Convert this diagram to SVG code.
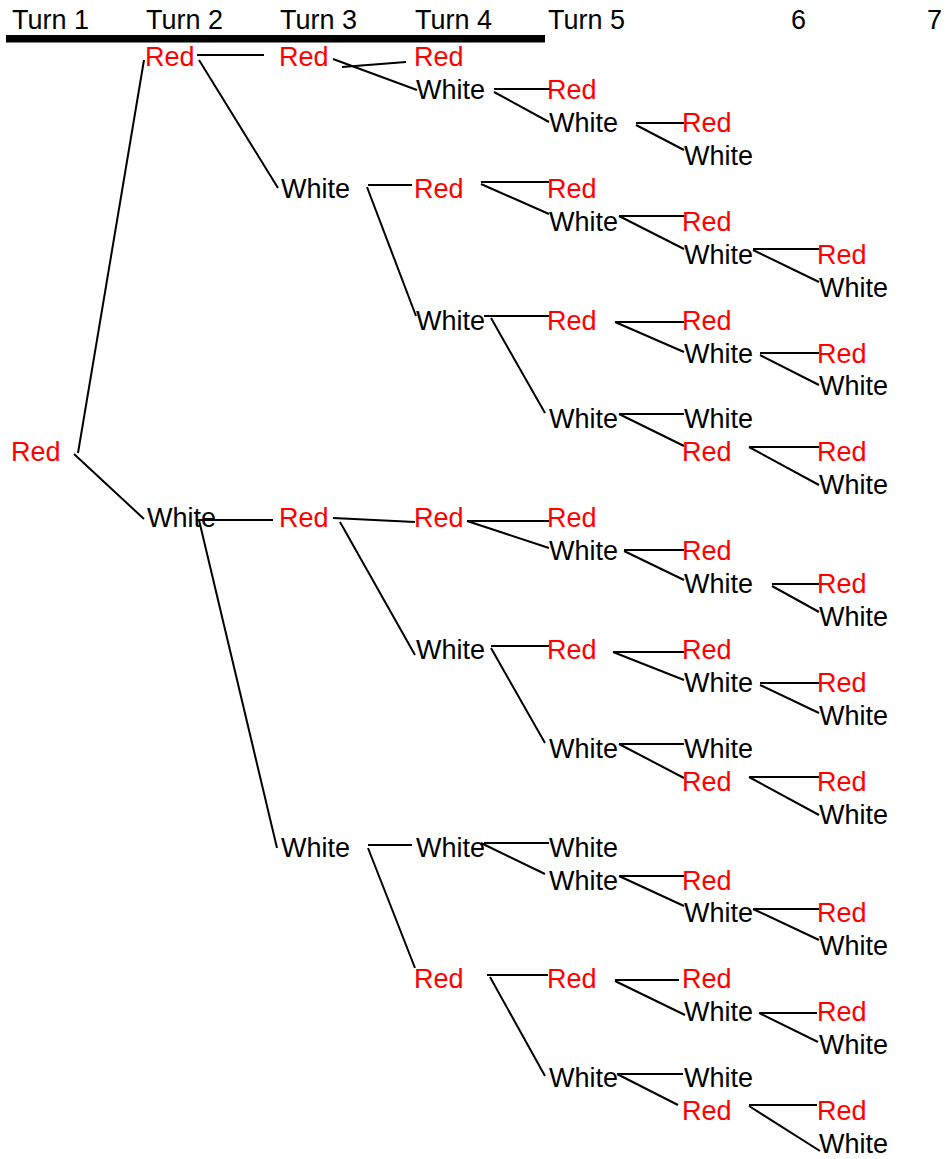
<svg xmlns="http://www.w3.org/2000/svg" width="948" height="1159" viewBox="0 0 948 1159">
  <style>
    text { font-family: "Liberation Sans", Arial, sans-serif; font-size: 27px; }
    .r { fill: #ff0000; }
    .w { fill: #000000; }
    .hd { fill: #000000; }
    #connectors line { stroke: #000000; stroke-width: 2; stroke-linecap: butt; }
  </style>
  <rect x="0" y="0" width="948" height="1159" fill="#ffffff"/>

  <!-- column headings -->
  <g id="header">
    <text class="hd" x="12" y="29">Turn 1</text>
    <text class="hd" x="146" y="29">Turn 2</text>
    <text class="hd" x="280" y="29">Turn 3</text>
    <text class="hd" x="415" y="29">Turn 4</text>
    <text class="hd" x="548" y="29">Turn 5</text>
    <text class="hd" x="791" y="29">6</text>
    <text class="hd" x="927" y="29">7</text>
    <rect x="6" y="35" width="539" height="7.5" fill="#000000"/>
  </g>

  <!-- branches -->
  <g id="connectors">
    <line x1="78" y1="453" x2="144" y2="60"/>
    <line x1="74" y1="454" x2="144" y2="519"/>
    <line x1="197" y1="55" x2="264" y2="55"/>
    <line x1="199" y1="60" x2="278" y2="188"/>
    <line x1="342" y1="67" x2="406" y2="62"/>
    <line x1="333" y1="59" x2="417" y2="90"/>
    <line x1="494" y1="89" x2="551" y2="89"/>
    <line x1="494" y1="92" x2="549" y2="122"/>
    <line x1="636" y1="123" x2="684" y2="123"/>
    <line x1="636" y1="125" x2="684" y2="150"/>
    <line x1="368" y1="185" x2="412" y2="185"/>
    <line x1="367" y1="187" x2="416" y2="316"/>
    <line x1="481" y1="182" x2="549" y2="182"/>
    <line x1="481" y1="184" x2="549" y2="214"/>
    <line x1="619" y1="216" x2="684" y2="216"/>
    <line x1="619" y1="216" x2="684" y2="249"/>
    <line x1="753" y1="249" x2="819" y2="249"/>
    <line x1="753" y1="250" x2="819" y2="282"/>
    <line x1="484" y1="316" x2="549" y2="316"/>
    <line x1="491" y1="318" x2="545" y2="413"/>
    <line x1="615" y1="322" x2="684" y2="322"/>
    <line x1="615" y1="322" x2="684" y2="352"/>
    <line x1="760" y1="353" x2="819" y2="353"/>
    <line x1="760" y1="355" x2="819" y2="385"/>
    <line x1="619" y1="414" x2="684" y2="414"/>
    <line x1="619" y1="414" x2="684" y2="446"/>
    <line x1="749" y1="447" x2="819" y2="447"/>
    <line x1="749" y1="447" x2="819" y2="485"/>
    <line x1="197" y1="520" x2="273" y2="520"/>
    <line x1="199" y1="520" x2="277" y2="848"/>
    <line x1="333" y1="518" x2="415" y2="522"/>
    <line x1="340" y1="522" x2="415" y2="655"/>
    <line x1="467" y1="521" x2="549" y2="521"/>
    <line x1="467" y1="521" x2="549" y2="548"/>
    <line x1="624" y1="550" x2="684" y2="550"/>
    <line x1="624" y1="551" x2="684" y2="580"/>
    <line x1="772" y1="584" x2="819" y2="584"/>
    <line x1="772" y1="586" x2="819" y2="612"/>
    <line x1="491" y1="646" x2="549" y2="646"/>
    <line x1="491" y1="648" x2="545" y2="743"/>
    <line x1="613" y1="652" x2="684" y2="652"/>
    <line x1="613" y1="652" x2="684" y2="680"/>
    <line x1="760" y1="683" x2="819" y2="683"/>
    <line x1="760" y1="685" x2="819" y2="713"/>
    <line x1="619" y1="744" x2="684" y2="744"/>
    <line x1="619" y1="744" x2="684" y2="778"/>
    <line x1="749" y1="777" x2="819" y2="777"/>
    <line x1="749" y1="777" x2="819" y2="815"/>
    <line x1="368" y1="845" x2="412" y2="845"/>
    <line x1="368" y1="848" x2="415" y2="968"/>
    <line x1="484" y1="843" x2="549" y2="843"/>
    <line x1="481" y1="843" x2="545" y2="874"/>
    <line x1="619" y1="876" x2="684" y2="876"/>
    <line x1="619" y1="876" x2="684" y2="906"/>
    <line x1="753" y1="909" x2="819" y2="909"/>
    <line x1="753" y1="909" x2="819" y2="940"/>
    <line x1="487" y1="975" x2="548" y2="975"/>
    <line x1="490" y1="977" x2="545" y2="1076"/>
    <line x1="615" y1="980" x2="679" y2="980"/>
    <line x1="615" y1="981" x2="685" y2="1015"/>
    <line x1="759" y1="1013" x2="817" y2="1013"/>
    <line x1="759" y1="1013" x2="818" y2="1042"/>
    <line x1="617" y1="1074" x2="683" y2="1074"/>
    <line x1="617" y1="1074" x2="678" y2="1105"/>
    <line x1="749" y1="1105" x2="817" y2="1105"/>
    <line x1="749" y1="1106" x2="820" y2="1151"/>
  </g>

  <!-- outcome nodes: column 1 -->
  <g id="c1-r12"><text class="r" x="11" y="461">Red</text></g>
  <!-- column 2 -->
  <g id="c2-r0"><text class="r" x="145" y="66">Red</text></g>
  <g id="c2-r14"><text class="w" x="147" y="527">White</text></g>
  <!-- column 3 -->
  <g id="c3-r0"><text class="r" x="279" y="66">Red</text></g>
  <g id="c3-r4"><text class="w" x="281" y="198">White</text></g>
  <g id="c3-r14"><text class="r" x="279" y="527">Red</text></g>
  <g id="c3-r24"><text class="w" x="281" y="857">White</text></g>
  <!-- column 4 -->
  <g id="c4-r0"><text class="r" x="414" y="66">Red</text></g>
  <g id="c4-r1"><text class="w" x="416" y="99">White</text></g>
  <g id="c4-r4"><text class="r" x="414" y="198">Red</text></g>
  <g id="c4-r8"><text class="w" x="416" y="330">White</text></g>
  <g id="c4-r14"><text class="r" x="414" y="527">Red</text></g>
  <g id="c4-r18"><text class="w" x="416" y="659">White</text></g>
  <g id="c4-r24"><text class="w" x="416" y="857">White</text></g>
  <g id="c4-r28"><text class="r" x="414" y="988">Red</text></g>
  <!-- column 5 -->
  <g id="c5-r1"><text class="r" x="547" y="99">Red</text></g>
  <g id="c5-r2"><text class="w" x="549" y="132">White</text></g>
  <g id="c5-r4"><text class="r" x="547" y="198">Red</text></g>
  <g id="c5-r5"><text class="w" x="549" y="231">White</text></g>
  <g id="c5-r8"><text class="r" x="547" y="330">Red</text></g>
  <g id="c5-r11"><text class="w" x="549" y="428">White</text></g>
  <g id="c5-r14"><text class="r" x="547" y="527">Red</text></g>
  <g id="c5-r15"><text class="w" x="549" y="560">White</text></g>
  <g id="c5-r18"><text class="r" x="547" y="659">Red</text></g>
  <g id="c5-r21"><text class="w" x="549" y="758">White</text></g>
  <g id="c5-r24"><text class="w" x="549" y="857">White</text></g>
  <g id="c5-r25"><text class="w" x="549" y="890">White</text></g>
  <g id="c5-r28"><text class="r" x="547" y="988">Red</text></g>
  <g id="c5-r31"><text class="w" x="549" y="1087">White</text></g>
  <!-- column 6 -->
  <g id="c6-r2"><text class="r" x="682" y="132">Red</text></g>
  <g id="c6-r3"><text class="w" x="684" y="165">White</text></g>
  <g id="c6-r5"><text class="r" x="682" y="231">Red</text></g>
  <g id="c6-r6"><text class="w" x="684" y="264">White</text></g>
  <g id="c6-r8"><text class="r" x="682" y="330">Red</text></g>
  <g id="c6-r9"><text class="w" x="684" y="363">White</text></g>
  <g id="c6-r11"><text class="w" x="684" y="428">White</text></g>
  <g id="c6-r12"><text class="r" x="682" y="461">Red</text></g>
  <g id="c6-r15"><text class="r" x="682" y="560">Red</text></g>
  <g id="c6-r16"><text class="w" x="684" y="593">White</text></g>
  <g id="c6-r18"><text class="r" x="682" y="659">Red</text></g>
  <g id="c6-r19"><text class="w" x="684" y="692">White</text></g>
  <g id="c6-r21"><text class="w" x="684" y="758">White</text></g>
  <g id="c6-r22"><text class="r" x="682" y="791">Red</text></g>
  <g id="c6-r25"><text class="r" x="682" y="890">Red</text></g>
  <g id="c6-r26"><text class="w" x="684" y="922">White</text></g>
  <g id="c6-r28"><text class="r" x="682" y="988">Red</text></g>
  <g id="c6-r29"><text class="w" x="684" y="1021">White</text></g>
  <g id="c6-r31"><text class="w" x="684" y="1087">White</text></g>
  <g id="c6-r32"><text class="r" x="682" y="1120">Red</text></g>
  <!-- column 7 -->
  <g id="c7-r6"><text class="r" x="817" y="264">Red</text></g>
  <g id="c7-r7"><text class="w" x="819" y="297">White</text></g>
  <g id="c7-r9"><text class="r" x="817" y="363">Red</text></g>
  <g id="c7-r10"><text class="w" x="819" y="395">White</text></g>
  <g id="c7-r12"><text class="r" x="817" y="461">Red</text></g>
  <g id="c7-r13"><text class="w" x="819" y="494">White</text></g>
  <g id="c7-r16"><text class="r" x="817" y="593">Red</text></g>
  <g id="c7-r17"><text class="w" x="819" y="626">White</text></g>
  <g id="c7-r19"><text class="r" x="817" y="692">Red</text></g>
  <g id="c7-r20"><text class="w" x="819" y="725">White</text></g>
  <g id="c7-r22"><text class="r" x="817" y="791">Red</text></g>
  <g id="c7-r23"><text class="w" x="819" y="824">White</text></g>
  <g id="c7-r26"><text class="r" x="817" y="922">Red</text></g>
  <g id="c7-r27"><text class="w" x="819" y="955">White</text></g>
  <g id="c7-r29"><text class="r" x="817" y="1021">Red</text></g>
  <g id="c7-r30"><text class="w" x="819" y="1054">White</text></g>
  <g id="c7-r32"><text class="r" x="817" y="1120">Red</text></g>
  <g id="c7-r33"><text class="w" x="819" y="1153">White</text></g>
</svg>
